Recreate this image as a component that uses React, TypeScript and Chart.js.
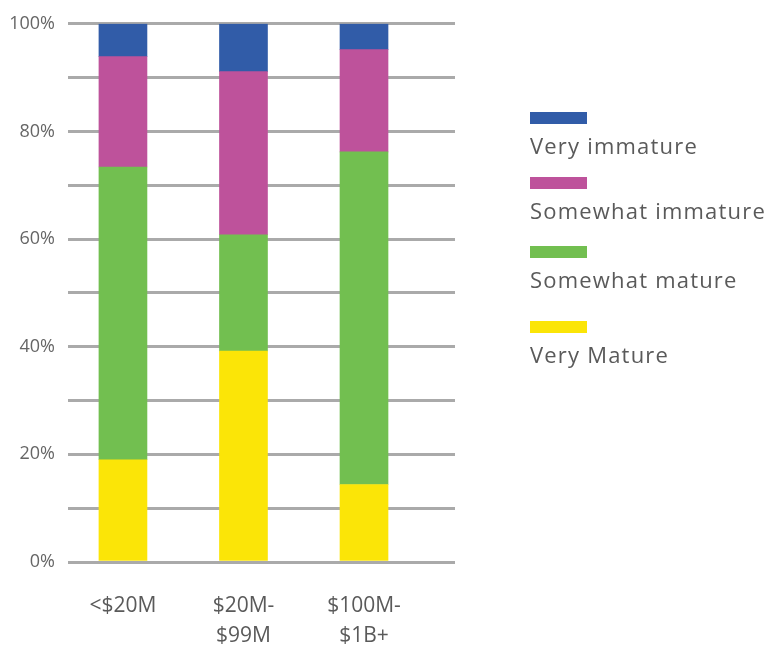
import React, { useEffect, useRef } from "react";
import { Chart, registerables } from "chart.js";

Chart.register(...registerables);

const categories: string[][] = [["<$20M"], ["$20M-", "$99M"], ["$100M-", "$1B+"]];
const seriesNames = ["Very Mature", "Somewhat mature", "Somewhat immature", "Very immature"];
const veryMature = [19.0, 39.2, 14.4];
const somewhatMature = [54.4, 21.6, 61.8];
const somewhatImmature = [20.5, 30.3, 19.0];
const veryImmature = [6.1, 8.9, 4.8];
const seriesColors = ["#FBE507", "#72BF50", "#BE529B", "#315CA8"];
const yTickLabels = [0, 20, 40, 60, 80, 100];

const FONT = "'Open Sans', 'DejaVu Sans', sans-serif";

export default function App() {
  const ref = useRef<HTMLCanvasElement | null>(null);

  useEffect(() => {
    document.body.style.margin = "0";
    const values = [veryMature, somewhatMature, somewhatImmature, veryImmature];
    const chart = new Chart(ref.current as HTMLCanvasElement, {
      type: "bar",
      data: {
        datasets: seriesNames.map((name, k) => ({
          label: name,
          data: values[k].map((y, i) => ({ x: i, y })),
          backgroundColor: seriesColors[k],
          borderWidth: 0,
          barThickness: 48,
        })),
      },
      options: {
        animation: false,
        responsive: false,
        maintainAspectRatio: false,
        layout: { padding: { top: 20, right: 313, bottom: 0, left: 0 } },
        plugins: { legend: { display: false }, tooltip: { enabled: false } },
        scales: {
          x: {
            type: "linear",
            stacked: true,
            offset: false,
            min: -0.456,
            max: 2.755,
            grid: { display: false, offset: false },
            border: { display: false },
            afterBuildTicks: (s: any) => {
              s.ticks = categories.map((_, i) => ({ value: i }));
            },
            afterFit: (s: any) => {
              s.height = 86;
            },
            ticks: {
              autoSkip: false,
              maxRotation: 0,
              minRotation: 0,
              padding: 21,
              color: "#5a5a5a",
              font: { family: FONT, size: 21, lineHeight: 1.42 },
              callback: (v: any) => categories[Math.round(Number(v))] ?? "",
            },
          },
          y: {
            stacked: true,
            min: 0,
            max: 100,
            afterFit: (s: any) => {
              s.width = 68;
            },
            grid: { color: "#AAAAAA", lineWidth: 3, drawTicks: false },
            border: { display: false },
            ticks: {
              stepSize: 10,
              padding: 13,
              color: "#666666",
              font: { family: FONT, size: 18 },
              callback: (v: any) => (yTickLabels.includes(Number(v)) ? v + "%" : ""),
            },
          },
        },
      },
    });
    return () => chart.destroy();
  }, []);

  const legendOrder = [3, 2, 1, 0];
  const legendTops = [112, 177, 246, 321];

  return (
    <div style={{ position: "relative", width: 768, height: 648 }}>
      <canvas ref={ref} width={768} height={648} style={{ display: "block" }} />
      {legendOrder.map((k, j) => (
        <div key={k} style={{ position: "absolute", left: 530, top: legendTops[j] }}>
          <div style={{ width: 57, height: 12, background: seriesColors[k] }} />
          <div
            style={{
              marginTop: 6,
              fontFamily: FONT,
              fontSize: 22,
              lineHeight: "30px",
              color: "#5a5a5a",
              whiteSpace: "nowrap",
              letterSpacing: "1.2px",
            }}
          >
            {seriesNames[k]}
          </div>
        </div>
      ))}
    </div>
  );
}
